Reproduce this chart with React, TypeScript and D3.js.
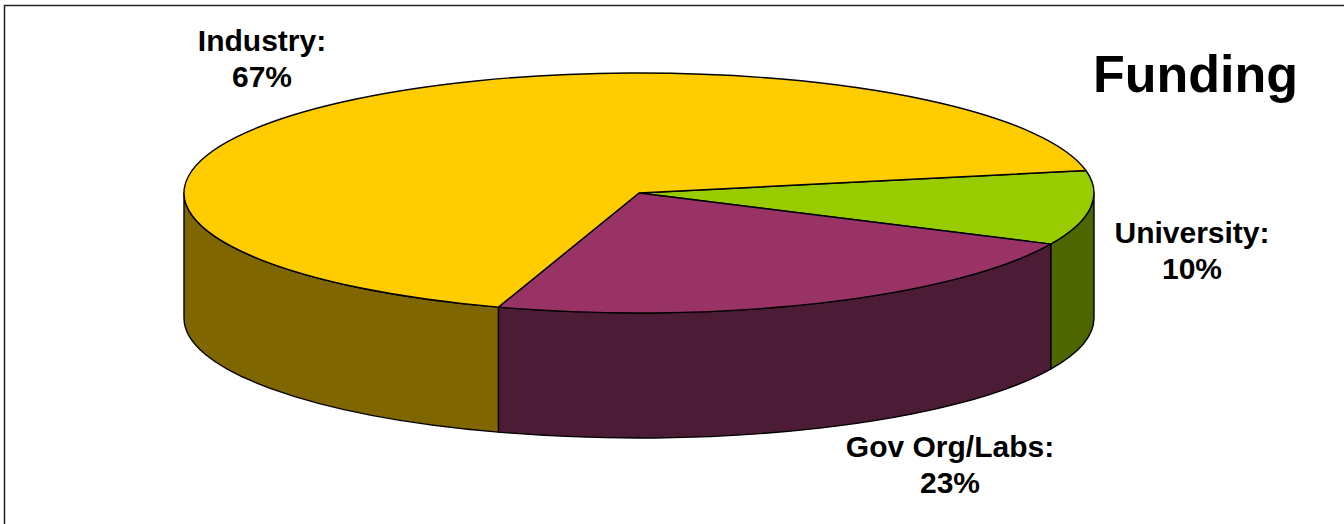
import React from "react";
import * as d3 from "d3";

const categories = ["University", "Gov Org/Labs", "Industry"];
const values = [10, 23, 67];
const labelLines = [
  ["University:", "10%"],
  ["Gov Org/Labs:", "23%"],
  ["Industry:", "67%"],
];
const topColors = ["#99CC00", "#993366", "#FFCC00"];
const sideColors = ["#4D6600", "#4C1C36", "#806600"];
const title = "Funding";

const W = 1344;
const H = 524;
const cx = 639;
const cy = 193;
const rx = 455;
const ry = 120;
const depth = 125;
const startDeg = 79.2; // pie angle (clockwise from 12 o'clock) of first slice start

const labelPos: [number, number][] = [
  [1192, 243],
  [950, 457],
  [262, 51],
];

function pt(t: number, dy = 0): [number, number] {
  return [cx + rx * Math.cos(t), cy + dy + ry * Math.sin(t)];
}

export default function App() {
  const pie = d3
    .pie<number>()
    .sort(null)
    .startAngle((startDeg * Math.PI) / 180)
    .endAngle((startDeg * Math.PI) / 180 + 2 * Math.PI);
  const arcs = pie(values);
  const slices = arcs.map((a, i) => ({
    i,
    t0: a.startAngle - Math.PI / 2,
    t1: a.endAngle - Math.PI / 2,
  }));

  const sides: { d: string; i: number }[] = [];
  slices.forEach((s) => {
    const p = Math.max(s.t0, 0);
    const q = Math.min(s.t1, Math.PI);
    if (q > p) {
      const [x0, y0] = pt(p);
      const [x1, y1] = pt(q);
      const [bx0, by0] = pt(p, depth);
      const [bx1, by1] = pt(q, depth);
      const d = `M${x0},${y0} A${rx},${ry} 0 0 1 ${x1},${y1} L${bx1},${by1} A${rx},${ry} 0 0 0 ${bx0},${by0} Z`;
      sides.push({ d, i: s.i });
    }
  });

  const tops = slices.map((s) => {
    const [x0, y0] = pt(s.t0);
    const [x1, y1] = pt(s.t1);
    const large = s.t1 - s.t0 > Math.PI ? 1 : 0;
    return {
      i: s.i,
      d: `M${cx},${cy} L${x0},${y0} A${rx},${ry} 0 ${large} 1 ${x1},${y1} Z`,
    };
  });

  const font = "'Liberation Sans', Arial, sans-serif";

  return (
    <svg
      width={W}
      height={H}
      style={{ position: "absolute", left: 0, top: 0, background: "#fff" }}
    >
      <rect x={0} y={0} width={W} height={H} fill="#fff" />
      <rect
        x={4.5}
        y={5.5}
        width={W + 20}
        height={H + 20}
        fill="none"
        stroke="#222"
        strokeWidth={1.5}
      />
      {sides.map((s) => (
        <path
          key={"s" + s.i}
          d={s.d}
          fill={sideColors[s.i]}
          stroke="#000"
          strokeWidth={1.4}
          strokeLinejoin="round"
        />
      ))}
      {tops.map((s) => (
        <path
          key={"t" + s.i}
          d={s.d}
          fill={topColors[s.i]}
          stroke="#000"
          strokeWidth={1.4}
          strokeLinejoin="round"
        />
      ))}
      {labelLines.map((lines, i) => (
        <text
          key={categories[i]}
          x={labelPos[i][0]}
          y={labelPos[i][1]}
          textAnchor="middle"
          fontFamily={font}
          fontWeight="bold"
          fontSize={30}
          fill="#000"
        >
          <tspan x={labelPos[i][0]} dy={0}>
            {lines[0]}
          </tspan>
          <tspan x={labelPos[i][0]} dy={35.5}>
            {lines[1]}
          </tspan>
        </text>
      ))}
      <text
        x={1093}
        y={92}
        fontFamily={font}
        fontWeight="bold"
        fontSize={52}
        fill="#000"
      >
        {title}
      </text>
    </svg>
  );
}
